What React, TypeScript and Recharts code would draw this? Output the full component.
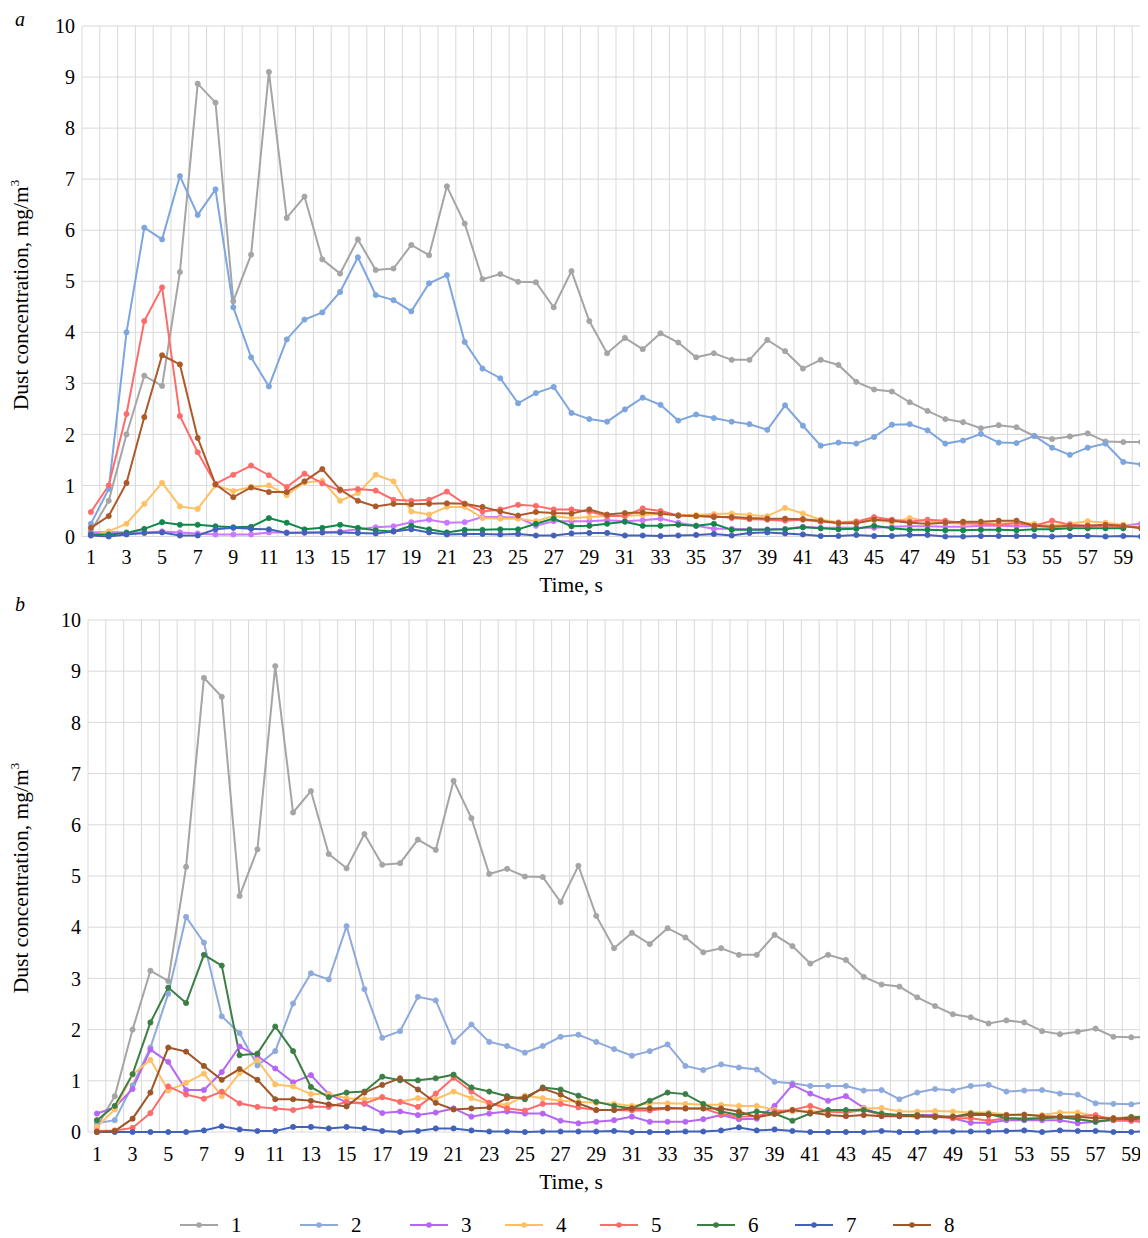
import React from "react";
import { LineChart, Line, XAxis, YAxis, CartesianGrid } from "recharts";

const TIME = [1,2,3,4,5,6,7,8,9,10,11,12,13,14,15,16,17,18,19,20,21,22,23,24,25,26,27,28,29,30,31,32,33,34,35,36,37,38,39,40,41,42,43,44,45,46,47,48,49,50,51,52,53,54,55,56,57,58,59,60];
const X_TICKS = [1,3,5,7,9,11,13,15,17,19,21,23,25,27,29,31,33,35,37,39,41,43,45,47,49,51,53,55,57,59];
const Y_TICKS = [0,1,2,3,4,5,6,7,8,9,10];
const SERIES_NAMES = ["1","2","3","4","5","6","7","8"];

// Panel a
const A1 = [0.1,0.7,2.0,3.15,2.95,5.18,8.87,8.5,4.61,5.52,9.1,6.24,6.66,5.43,5.15,5.82,5.22,5.25,5.71,5.51,6.86,6.13,5.04,5.14,4.99,4.98,4.49,5.2,4.22,3.59,3.89,3.67,3.98,3.8,3.51,3.59,3.46,3.46,3.85,3.63,3.29,3.46,3.36,3.03,2.88,2.84,2.63,2.46,2.30,2.24,2.12,2.18,2.14,1.97,1.91,1.96,2.02,1.86,1.85,1.85];
const A2 = [0.25,0.93,4.0,6.05,5.82,7.06,6.3,6.8,4.49,3.51,2.94,3.86,4.25,4.39,4.79,5.47,4.73,4.63,4.41,4.96,5.12,3.81,3.29,3.10,2.61,2.81,2.93,2.42,2.30,2.25,2.49,2.72,2.58,2.27,2.39,2.32,2.25,2.20,2.09,2.57,2.17,1.78,1.84,1.82,1.95,2.19,2.20,2.08,1.82,1.88,2.01,1.84,1.83,1.97,1.74,1.60,1.74,1.82,1.46,1.41];
const A3 = [0.08,0.09,0.08,0.08,0.10,0.08,0.06,0.04,0.04,0.04,0.08,0.08,0.07,0.08,0.10,0.14,0.18,0.20,0.28,0.33,0.27,0.28,0.38,0.38,0.37,0.21,0.30,0.30,0.30,0.32,0.30,0.32,0.35,0.27,0.21,0.15,0.15,0.14,0.14,0.15,0.19,0.17,0.17,0.17,0.17,0.19,0.20,0.20,0.19,0.19,0.21,0.21,0.20,0.20,0.19,0.20,0.21,0.21,0.21,0.25];
const A4 = [0.02,0.10,0.25,0.64,1.05,0.59,0.54,1.0,0.89,0.97,1.0,0.81,1.06,1.09,0.70,0.85,1.21,1.08,0.49,0.43,0.58,0.58,0.36,0.35,0.35,0.30,0.40,0.36,0.38,0.40,0.40,0.42,0.44,0.42,0.42,0.44,0.45,0.42,0.40,0.56,0.45,0.33,0.28,0.30,0.33,0.28,0.36,0.30,0.27,0.25,0.27,0.25,0.28,0.25,0.21,0.25,0.30,0.27,0.23,0.17];
const A5 = [0.48,1.0,2.40,4.22,4.88,2.36,1.65,1.03,1.21,1.39,1.20,0.97,1.23,1.04,0.90,0.93,0.90,0.72,0.70,0.72,0.88,0.64,0.49,0.53,0.62,0.60,0.53,0.53,0.49,0.40,0.40,0.55,0.50,0.41,0.40,0.40,0.36,0.34,0.33,0.31,0.33,0.29,0.27,0.29,0.38,0.33,0.29,0.33,0.31,0.26,0.25,0.23,0.26,0.21,0.31,0.23,0.21,0.21,0.19,0.18];
const A6 = [0.04,0.04,0.07,0.15,0.28,0.23,0.23,0.20,0.18,0.19,0.36,0.27,0.14,0.17,0.23,0.17,0.12,0.10,0.21,0.14,0.08,0.13,0.13,0.14,0.14,0.25,0.35,0.20,0.21,0.25,0.29,0.21,0.21,0.23,0.21,0.25,0.13,0.13,0.13,0.14,0.18,0.16,0.14,0.15,0.21,0.16,0.13,0.13,0.12,0.12,0.13,0.13,0.12,0.14,0.14,0.16,0.16,0.16,0.16,null];
const A7 = [0.02,0.0,0.04,0.07,0.08,0.02,0.02,0.14,0.17,0.15,0.14,0.07,0.08,0.08,0.08,0.07,0.06,0.10,0.14,0.08,0.04,0.05,0.05,0.04,0.05,0.02,0.02,0.06,0.07,0.07,0.02,0.02,0.01,0.02,0.03,0.05,0.02,0.07,0.08,0.06,0.04,0.01,0.01,0.03,0.01,0.01,0.03,0.03,0.0,0.0,0.01,0.01,0.01,0.01,0.0,0.01,0.01,0.0,0.01,0.0];
const A8 = [0.17,0.40,1.05,2.34,3.55,3.37,1.93,1.02,0.77,0.96,0.87,0.87,1.08,1.32,0.92,0.70,0.59,0.64,0.63,0.64,0.65,0.64,0.58,0.49,0.41,0.48,0.46,0.45,0.53,0.43,0.46,0.47,0.45,0.41,0.40,0.38,0.38,0.36,0.35,0.35,0.34,0.31,0.26,0.26,0.33,0.31,0.27,0.25,0.27,0.29,0.29,0.31,0.31,0.21,0.19,0.21,0.21,0.23,0.21,0.16];

// Panel b
const B1 = A1;
const B2 = [0.17,0.23,0.91,1.65,2.70,4.2,3.7,2.26,1.93,1.30,1.58,2.51,3.10,2.98,4.02,2.79,1.84,1.97,2.64,2.57,1.76,2.10,1.76,1.68,1.55,1.68,1.86,1.90,1.76,1.62,1.49,1.58,1.71,1.29,1.21,1.32,1.26,1.22,0.98,0.95,0.90,0.90,0.90,0.81,0.82,0.64,0.77,0.84,0.81,0.90,0.92,0.79,0.81,0.82,0.75,0.73,0.56,0.55,0.54,0.59];
const B3 = [0.36,0.48,0.84,1.61,1.37,0.82,0.82,1.17,1.67,1.48,1.24,0.97,1.11,0.74,0.58,0.55,0.37,0.40,0.33,0.38,0.46,0.30,0.36,0.40,0.36,0.36,0.22,0.17,0.20,0.23,0.30,0.20,0.20,0.20,0.25,0.33,0.25,0.26,0.51,0.92,0.75,0.61,0.70,0.47,0.33,0.31,0.33,0.33,0.27,0.18,0.18,0.23,0.23,0.23,0.23,0.17,0.20,0.23,0.22,0.20];
const B4 = [0.10,0.44,1.12,1.41,0.81,0.96,1.14,0.70,1.15,1.40,0.93,0.89,0.74,0.74,0.66,0.64,0.68,0.59,0.66,0.64,0.79,0.66,0.55,0.53,0.71,0.66,0.61,0.59,0.57,0.55,0.51,0.56,0.56,0.55,0.53,0.53,0.51,0.51,0.43,0.40,0.41,0.38,0.40,0.46,0.47,0.40,0.40,0.41,0.40,0.38,0.38,0.34,0.33,0.33,0.38,0.38,0.31,0.27,0.30,0.31];
const B5 = [0.02,0.03,0.08,0.37,0.89,0.73,0.65,0.79,0.56,0.49,0.46,0.43,0.50,0.49,0.59,0.56,0.68,0.59,0.49,0.75,1.06,0.79,0.57,0.46,0.42,0.55,0.55,0.48,0.43,0.43,0.42,0.42,0.46,0.46,0.46,0.35,0.30,0.31,0.40,0.43,0.51,0.40,0.38,0.43,0.33,0.33,0.30,0.30,0.27,0.27,0.22,0.27,0.27,0.27,0.30,0.31,0.33,0.23,0.22,0.18];
const B6 = [0.23,0.51,1.13,2.14,2.82,2.52,3.46,3.25,1.50,1.53,2.06,1.58,0.88,0.68,0.77,0.79,1.08,1.01,1.01,1.05,1.12,0.87,0.79,0.70,0.64,0.87,0.83,0.71,0.59,0.51,0.46,0.61,0.77,0.74,0.55,0.40,0.33,0.40,0.36,0.22,0.36,0.43,0.43,0.43,0.36,0.33,0.33,0.30,0.30,0.36,0.35,0.27,0.25,0.27,0.29,0.25,0.20,0.25,0.29,0.30];
const B7 = [0,0,0,0,0,0,0.03,0.11,0.05,0.02,0.02,0.10,0.10,0.07,0.10,0.07,0.02,0.0,0.02,0.07,0.07,0.03,0.01,0.01,0.0,0.01,0.01,0.01,0.01,0.02,0.0,0.0,0.0,0.01,0.01,0.03,0.09,0.03,0.05,0.02,0.0,0.0,0.0,0.0,0.02,0.0,0.0,0.01,0.01,0.01,0.01,0.02,0.03,0.0,0.03,0.02,0.02,0.0,0.0,0.02];
const B8 = [0.0,0.02,0.26,0.77,1.65,1.57,1.29,1.02,1.23,1.02,0.64,0.64,0.61,0.54,0.50,0.77,0.92,1.05,0.83,0.57,0.44,0.46,0.48,0.66,0.68,0.85,0.73,0.56,0.43,0.43,0.46,0.46,0.47,0.46,0.46,0.46,0.40,0.29,0.35,0.43,0.38,0.33,0.31,0.33,0.31,0.31,0.31,0.30,0.30,0.33,0.33,0.33,0.34,0.31,0.30,0.30,0.27,0.27,0.25,0.27];

const COLORS_A = ["#A5A5A5","#7DA5DE","#CC77FF","#FFC064","#FF6B6B","#13874A","#4262BA","#AD5A2A"];
const COLORS_B = ["#A5A5A5","#8EAADC","#B666F2","#FFC064","#FF6B6B","#3B7F45","#4262BA","#9E5527"];

const FONT = '"Liberation Serif", "Times New Roman", serif';

function buildRows(series: (number | null)[][]) {
  return TIME.map((t, i) => {
    const row: any = { t };
    series.forEach((s, k) => { row["s" + (k + 1)] = s[i]; });
    return row;
  });
}

const DATA_A = buildRows([A1, A2, A3, A4, A5, A6, A7, A8]);
const DATA_B = buildRows([B1, B2, B3, B4, B5, B6, B7, B8]);
const GRID_X = [0.5, ...TIME.map((t) => t + 0.5)];

function Panel(props: { data: any[]; colors: string[]; width: number; height: number; yWidth: number; top: number; bottom: number; xMargin: number }) {
  const { data, colors, width, height, yWidth, top, bottom, xMargin } = props;
  const tick = { fontSize: 20, fill: "#000", fontFamily: FONT };
  return (
    <LineChart width={width} height={height} data={data} margin={{ top, right: 0, bottom, left: 0 }}>
      <CartesianGrid stroke="#D9D9D9" strokeWidth={1} verticalValues={GRID_X} horizontalValues={Y_TICKS} />
      <XAxis
        dataKey="t"
        type="number"
        domain={[0.5, 60.5]}
        ticks={X_TICKS}
        interval={0}
        allowDataOverflow
        axisLine={false}
        tickLine={false}
        tickSize={0}
        tickMargin={xMargin}
        height={50}
        tick={tick}
      />
      <YAxis
        type="number"
        domain={[0, 10]}
        ticks={Y_TICKS}
        interval={0}
        axisLine={false}
        tickLine={false}
        tickSize={0}
        tickMargin={7}
        width={yWidth}
        tick={tick}
      />
      {SERIES_NAMES.map((name, k) => (
        <Line
          key={name}
          name={name}
          type="linear"
          dataKey={"s" + (k + 1)}
          stroke={colors[k]}
          strokeWidth={2}
          dot={{ r: 2.6, fill: colors[k], stroke: colors[k], strokeWidth: 0.8 }}
          isAnimationActive={false}
          connectNulls={false}
        />
      ))}
    </LineChart>
  );
}

const LEGEND_X = [172, 292, 402, 497, 592, 689, 787, 885];

export default function App() {
  return (
    <div style={{ position: "relative", width: 1140, height: 1230, overflow: "hidden", fontFamily: FONT, background: "#fff" }}>
      <div style={{ position: "absolute", left: 0, top: 0 }}>
        <Panel data={DATA_A} colors={COLORS_A} width={1142} height={590} yWidth={74} top={18} bottom={11.5} xMargin={13} />
      </div>
      <div style={{ position: "absolute", left: 1.5, top: 592 }}>
        <Panel data={DATA_B} colors={COLORS_B} width={1148} height={590} yWidth={78} top={20} bottom={8} xMargin={15} />
      </div>
      <svg width={1140} height={1230} style={{ position: "absolute", left: 0, top: 0, pointerEvents: "none" }}>
        <text x={7} y={18} fontSize={20} fontStyle="italic" fontFamily={FONT}>a</text>
        <text x={7} y={603} fontSize={20} fontStyle="italic" fontFamily={FONT}>b</text>
        <text x={13} y={287} fontSize={21.5} fontFamily={FONT} textAnchor="middle" dominantBaseline="central" transform="rotate(-90, 13, 287)">
          Dust concentration, mg/m<tspan dy={-7} fontSize={13}>3</tspan>
        </text>
        <text x={13} y={870} fontSize={21.5} fontFamily={FONT} textAnchor="middle" dominantBaseline="central" transform="rotate(-90, 13, 870)">
          Dust concentration, mg/m<tspan dy={-7} fontSize={13}>3</tspan>
        </text>
        <text x={563} y={577} fontSize={21.5} fontFamily={FONT} textAnchor="middle" dominantBaseline="central">Time, s</text>
        <text x={563} y={1174} fontSize={21.5} fontFamily={FONT} textAnchor="middle" dominantBaseline="central">Time, s</text>
        {SERIES_NAMES.map((name, k) => (
          <g key={name}>
            <line x1={LEGEND_X[k]} x2={LEGEND_X[k] + 38} y1={1217} y2={1217} stroke={COLORS_B[k]} strokeWidth={2} />
            <circle cx={LEGEND_X[k] + 19} cy={1217} r={2.8} fill={COLORS_B[k]} />
            <text x={LEGEND_X[k] + 51} y={1217} fontSize={21} fontFamily={FONT} dominantBaseline="central">{name}</text>
          </g>
        ))}
      </svg>
    </div>
  );
}
